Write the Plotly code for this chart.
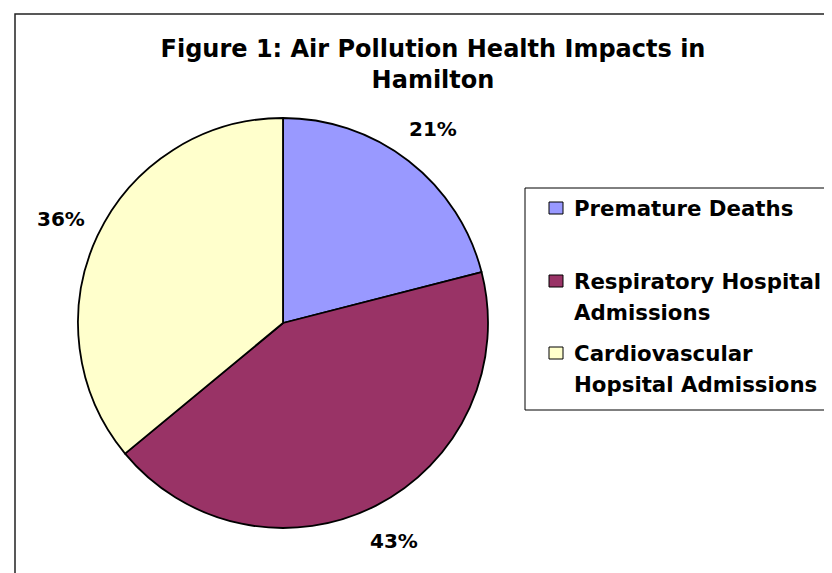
import math
import plotly.graph_objects as go

# ---- data ----
categories = ["Premature Deaths", "Respiratory Hospital Admissions", "Cardiovascular Hopsital Admissions"]
legend_lines = [["Premature Deaths"], ["Respiratory Hospital", "Admissions"], ["Cardiovascular", "Hopsital Admissions"]]
values = [21, 43, 36]
colors = ["#9999FF", "#993366", "#FFFFCC"]
title_text = "Figure 1: Air Pollution Health Impacts in<br>Hamilton"

W, H = 832, 573
FONT = "DejaVu Sans"
OFF = 8  # page body margin


def px(x):
    return (x - OFF) / W


def py(y):
    return 1 - (y - OFF) / H


# pie geometry (window pixels)
cx, cy, R = 283, 323, 205

fig = go.Figure()
fig.add_trace(go.Pie(
    labels=categories,
    values=values,
    sort=False,
    direction="clockwise",
    rotation=0,
    textinfo="none",
    hoverinfo="skip",
    showlegend=False,
    marker=dict(colors=colors, line=dict(color="black", width=1.8)),
    domain=dict(x=[px(cx - R), px(cx + R)], y=[py(cy + R), py(cy - R)]),
))

annotations = []
shapes = []

# outer frame
shapes.append(dict(type="rect", xref="paper", yref="paper",
                   x0=px(15), x1=px(860), y0=py(600), y1=py(14),
                   line=dict(color="#222222", width=1.5), fillcolor="rgba(0,0,0,0)", layer="below"))

# data labels at slice mid-angles
total = sum(values)
cum = 0
for v in values:
    mid = (cum + v / 2) / total * 2 * math.pi
    cum += v
    r = R * 1.195
    lx = cx + r * math.sin(mid)
    ly = cy - r * math.cos(mid)
    annotations.append(dict(
        x=px(lx), y=py(ly), xref="paper", yref="paper",
        text=f"{round(v / total * 100)}%", showarrow=False,
        xanchor="center", yanchor="middle",
        font=dict(family=FONT, size=20, color="black", weight="bold"),
    ))

# legend box
lg_left, lg_top, lg_bottom = 525, 188, 410
shapes.append(dict(type="rect", xref="paper", yref="paper",
                   x0=px(lg_left), x1=px(870), y0=py(lg_bottom), y1=py(lg_top),
                   line=dict(color="black", width=1), fillcolor="white"))

item_y = [208, 281, 353]
line_step = 31.5
for lines, col, y0 in zip(legend_lines, colors, item_y):
    shapes.append(dict(type="rect", xref="paper", yref="paper",
                       x0=px(549), x1=px(563), y0=py(y0 + 6), y1=py(y0 - 6),
                       line=dict(color="black", width=1), fillcolor=col))
    for i, t in enumerate(lines):
        annotations.append(dict(
            x=px(572), y=py(y0 + i * line_step), xref="paper", yref="paper",
            text=t, showarrow=False, xanchor="left", yanchor="middle",
            font=dict(family=FONT, size=21.3, color="black", weight="bold"),
        ))

fig.update_layout(
    width=W, height=H, autosize=False,
    margin=dict(l=0, r=0, t=0, b=0),
    paper_bgcolor="white", plot_bgcolor="white",
    title=dict(text=title_text, x=px(433), xanchor="center", y=py(56.5), yanchor="middle",
               font=dict(family=FONT, size=24, color="black", weight="bold")),
    shapes=shapes,
    annotations=annotations,
    showlegend=False,
)

fig.write_html("out.html")
